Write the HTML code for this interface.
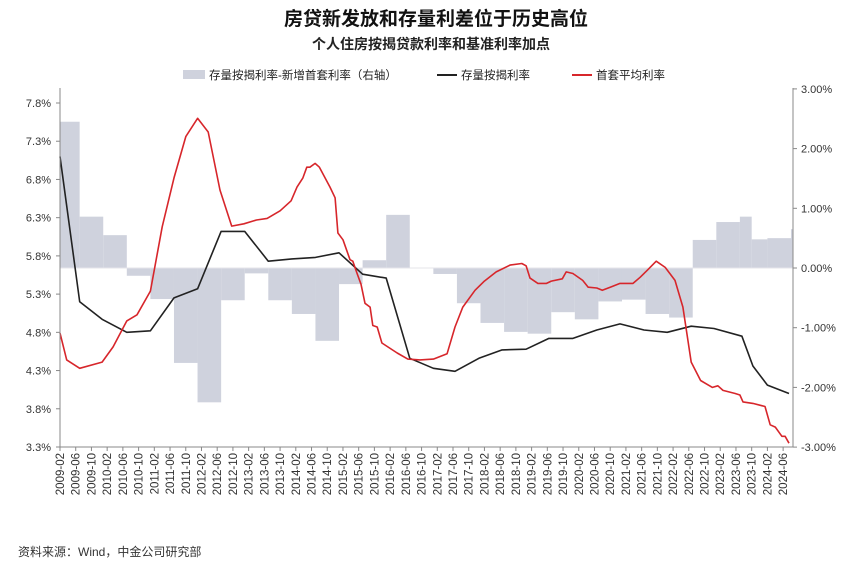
<!DOCTYPE html>
<html><head><meta charset="utf-8">
<style>
html,body{margin:0;padding:0;background:#fff;}
body{width:849px;height:565px;overflow:hidden;font-family:"Liberation Sans","Noto Sans CJK SC",sans-serif;}
svg text{font-family:"Liberation Sans","Noto Sans CJK SC",sans-serif;}
</style></head>
<body>
<svg id="chart" width="849" height="565" viewBox="0 0 849 565" xmlns="http://www.w3.org/2000/svg">
<text x="436" y="25" text-anchor="middle" font-size="19" font-weight="bold" fill="#111">房贷新发放和存量利差位于历史高位</text>
<text x="431" y="49" text-anchor="middle" font-size="14" font-weight="bold" fill="#222">个人住房按揭贷款利率和基准利率加点</text>
<g>
<rect x="183" y="70" width="22" height="9" fill="#cfd2dd"/>
<text x="209" y="79" font-size="11.5" fill="#222">存量按揭利率-新增首套利率（右轴）</text>
<line x1="437" y1="75" x2="457" y2="75" stroke="#222" stroke-width="2"/>
<text x="461" y="79" font-size="11.5" fill="#222">存量按揭利率</text>
<line x1="572" y1="75" x2="592" y2="75" stroke="#d7262b" stroke-width="2"/>
<text x="596" y="79" font-size="11.5" fill="#222">首套平均利率</text>
</g>
<g id="plot"></g>
<text x="18" y="556" font-size="12" fill="#333">资料来源：Wind，中金公司研究部</text>
</svg>
<script>
// Bars: spread (right axis, %), start month index from 2009-02
var barStarts = [0,5,11,17,23,29,35,41,47,53,59,65,71,77,83,89,95,101,107,113,119,125,131,137,143,149,155,161,167,173,176,180,186];
var barValues = [2.45,0.86,0.55,-0.13,-0.52,-1.59,-2.25,-0.54,-0.09,-0.54,-0.77,-1.22,-0.27,0.13,0.89,0.0,-0.1,-0.59,-0.92,-1.07,-1.1,-0.74,-0.86,-0.56,-0.53,-0.77,-0.83,0.47,0.77,0.86,0.48,0.50,0.65];
var barEnd = 186.5;
// Stock mortgage rate (left axis)
var stockMonths = [0,5,10.7,17,23,29,35,41,47,53,59,65,71,77,83,89,95,100.5,106.6,112.5,118.6,124.4,130.5,136.6,142.5,148.6,154.5,160.6,166.4,173.5,176.3,180,185.5];
var stockValues = [7.10,5.20,4.97,4.80,4.82,5.25,5.37,6.12,6.12,5.73,5.76,5.78,5.84,5.56,5.51,4.46,4.33,4.29,4.46,4.57,4.58,4.72,4.72,4.83,4.91,4.83,4.80,4.88,4.85,4.75,4.36,4.11,4.00];
// First-home average rate (left axis)
var firstMonths = [0,1.7,5,10.7,13.5,17,19.6,23,26,29,32,35,37.7,40.7,43.7,46.8,50,52.7,56,58.8,60.3,61.8,62.8,63.6,64.9,66,68.7,70,70.7,72,73.8,74.5,75.6,76.6,77.6,78.9,79.6,80.7,81.9,85.8,88.5,91.6,95,98.5,100.5,102.5,105.6,108,111,114.5,117.5,118.6,119.6,121.6,123.8,125,127.8,128.8,130.5,133,134.4,136.6,138,140,142.5,144,145.8,147.6,149.4,151.7,154,156.5,158.5,160.6,163,166,167.4,168.7,171.8,173,173.8,176.3,179.4,180.7,182,183.7,184.5,185.5];
var firstValues = [4.79,4.44,4.33,4.41,4.61,4.95,5.03,5.34,6.18,6.82,7.36,7.60,7.42,6.66,6.19,6.22,6.27,6.29,6.39,6.52,6.70,6.82,6.96,6.96,7.01,6.96,6.70,6.56,6.10,6.01,5.75,5.73,5.57,5.43,5.18,5.13,4.89,4.87,4.66,4.53,4.45,4.44,4.45,4.52,4.87,5.13,5.35,5.47,5.59,5.68,5.70,5.67,5.51,5.44,5.44,5.47,5.50,5.59,5.57,5.48,5.39,5.38,5.35,5.39,5.44,5.44,5.44,5.52,5.61,5.73,5.65,5.48,5.13,4.41,4.17,4.08,4.10,4.04,4.00,3.98,3.89,3.87,3.83,3.59,3.56,3.44,3.44,3.35];
var leftTicks = [7.8,7.3,6.8,6.3,5.8,5.3,4.8,4.3,3.8,3.3];
var rightTicks = [3,2,1,0,-1,-2,-3];

var X0=60, PX=3.93, LY0=447, LTOP=103, RY0=268, RPX=59.7;
function xm(m){return X0+m*PX;}
function yl(v){return LY0-(v-3.3)*(LY0-LTOP)/4.5;}
function yr(v){return RY0-v*RPX;}
function monthLabel(m){var y=2009+Math.floor((1+m)/12);var mo=((1+m)%12)+1;return y+'-'+(mo<10?'0':'')+mo;}

var NS='http://www.w3.org/2000/svg';
var plot=document.getElementById('plot');
function mk(tag,attrs,parent){var e=document.createElementNS(NS,tag);for(var k in attrs)e.setAttribute(k,attrs[k]);(parent||plot).appendChild(e);return e;}

var bg=mk('g',{});


for(var i=0;i<barValues.length;i++){
  var s=barStarts[i], e=(i+1<barStarts.length)?barStarts[i+1]:barEnd;
  var v=barValues[i], y1=yr(Math.max(v,0)), y2=yr(Math.min(v,0));
  var r=mk('rect',{x:xm(s),y:y1,width:Math.max(0,xm(e)-xm(s)),height:Math.max(0,y2-y1),fill:'#cfd2dd'},bg);
  
  
}
var zl=mk('line',{x1:X0,x2:793,y1:RY0,y2:RY0,stroke:'#e4e4ea','stroke-width':1});



function line(ms,vs,color,name){
  var d='';for(var i=0;i<ms.length;i++)d+=(i?'L':'M')+xm(ms[i]).toFixed(1)+','+yl(vs[i]).toFixed(1);
  var p=mk('path',{d:d,fill:'none',stroke:color,'stroke-width':1.6,'stroke-linejoin':'round'});
  
  
}
line(stockMonths,stockValues,'#222','stock-rate-line');
line(firstMonths,firstValues,'#d7262b','first-home-rate-line');

var la=mk('line',{x1:X0,x2:X0,y1:88,y2:LY0,stroke:'#888','stroke-width':1});


var ra=mk('line',{x1:793,x2:793,y1:88,y2:LY0,stroke:'#888','stroke-width':1});


var ba=mk('line',{x1:X0,x2:793,y1:LY0,y2:LY0,stroke:'#888','stroke-width':1});


leftTicks.forEach(function(v){
  mk('line',{x1:X0-4,x2:X0,y1:yl(v),y2:yl(v),stroke:'#888'});
  var t=mk('text',{x:X0-9,y:yl(v)+4,'text-anchor':'end','font-size':11,fill:'#333'});
  t.textContent=v.toFixed(1)+'%';
  
  
});
rightTicks.forEach(function(v){
  mk('line',{x1:793,x2:797,y1:yr(v),y2:yr(v),stroke:'#888'});
  var t=mk('text',{x:801,y:yr(v)+4,'font-size':11,fill:'#333'});
  t.textContent=v.toFixed(2)+'%';
  
  
});
for(var m=0;m<=184;m+=4){
  var x=xm(m);
  mk('line',{x1:x,x2:x,y1:LY0,y2:LY0+4,stroke:'#888'});
  var t=mk('text',{x:0,y:0,'text-anchor':'end','font-size':11.5,fill:'#333',transform:'translate('+(x+4)+','+(LY0+6)+') rotate(-90)'});
  t.textContent=monthLabel(m);
  
  
}
</script>
</body></html>
